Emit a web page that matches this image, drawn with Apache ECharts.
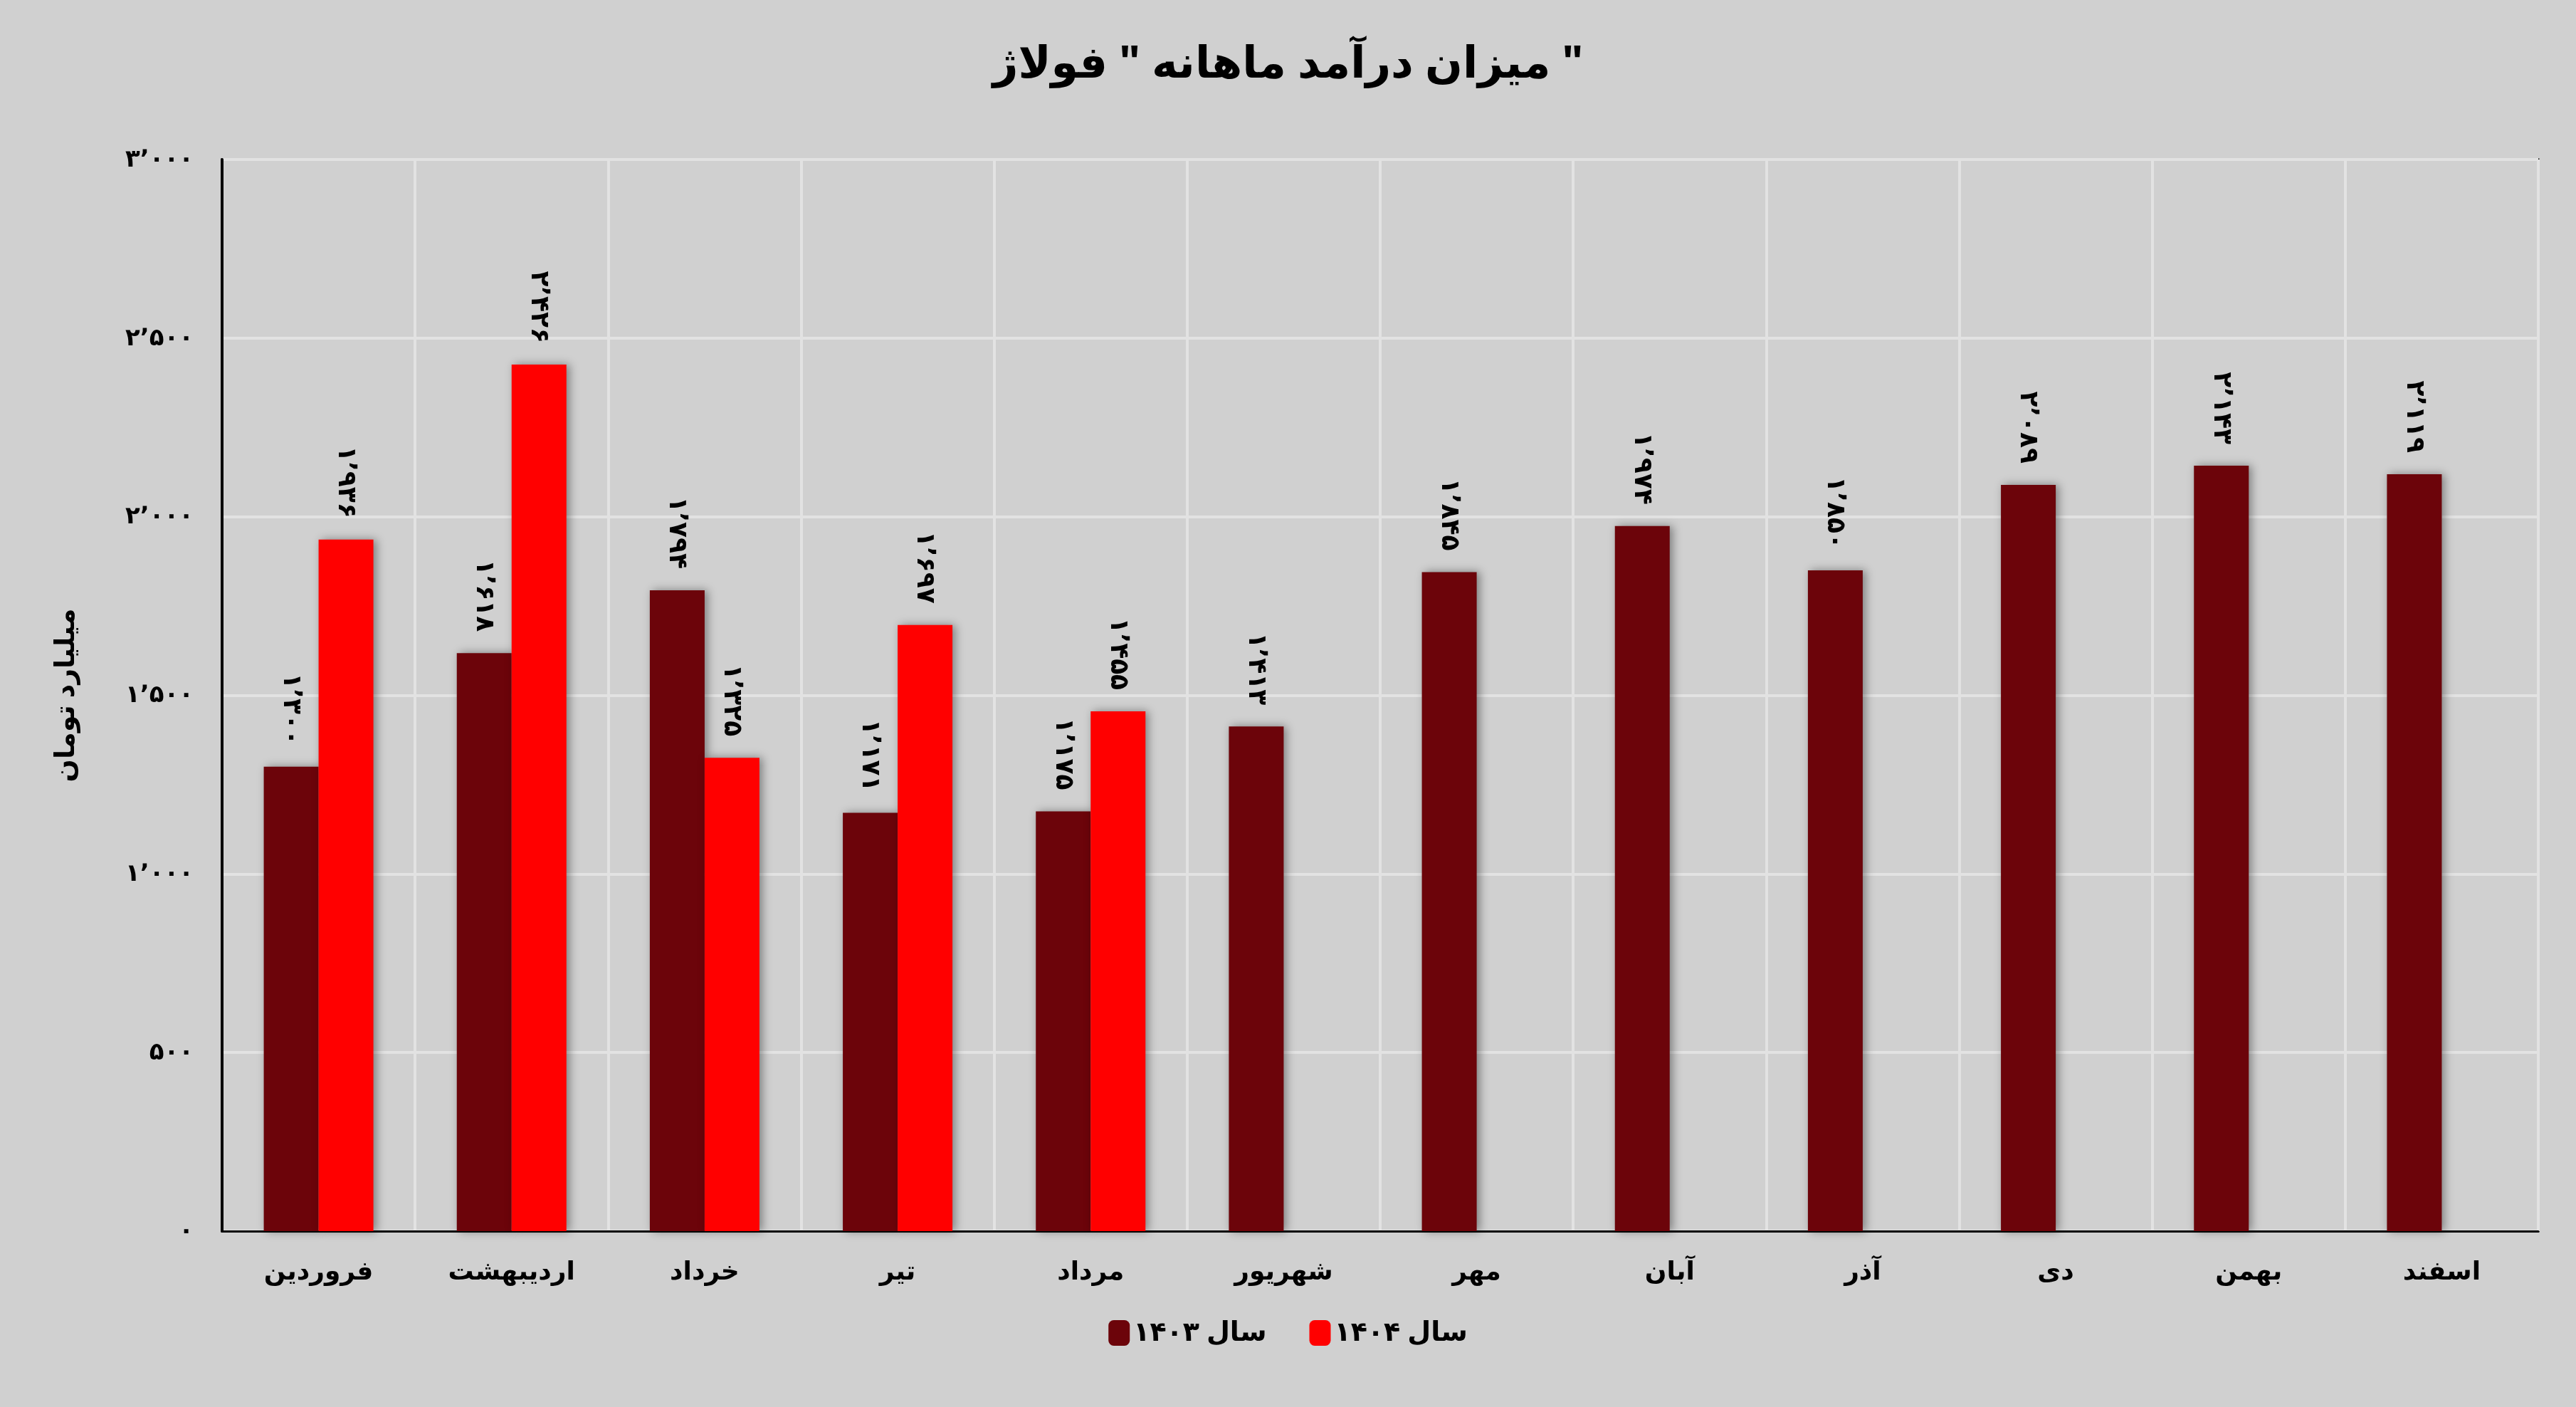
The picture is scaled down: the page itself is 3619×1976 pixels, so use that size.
<!DOCTYPE html>
<html><head><meta charset="utf-8">
<script src="https://cdn.jsdelivr.net/npm/echarts@6/dist/echarts.min.js"></script>
<style>html,body{margin:0;background:#d0d0d0}#c{width:3619px;height:1976px}</style>
</head><body><div id="c"></div>
<script>
var months = ['فروردین', 'اردیبهشت', 'خرداد', 'تیر', 'مرداد', 'شهریور', 'مهر', 'آبان', 'آذر', 'دی', 'بهمن', 'اسفند'];
var y1403 = [1300, 1618, 1794, 1171, 1175, 1413, 1845, 1974, 1850, 2089, 2143, 2119];
var y1404 = [1936, 2426, 1325, 1697, 1455, null, null, null, null, null, null, null];

function fa(n) {
    var s = String(n).replace(/\B(?=(\d{3})+(?!\d))/g, '٬');
    return s.replace(/\d/g, function (d) { return '۰۱۲۳۴۵۶۷۸۹'[d]; });
}
var font = 'Noto Sans, DejaVu Sans, sans-serif';
var myChart = echarts.init(document.getElementById('c'));
function lbl() {
    return {show: true, position: 'top', rotate: -90, align: 'right', verticalAlign: 'middle', distance: 30,
        fontSize: 36, fontWeight: 'bold', color: '#000', fontFamily: font,
        formatter: function (p) { return fa(p.value); }};
}
option = {
    backgroundColor: '#d0d0d0',
    title: {text: 'میزان درآمد ماهانه " فولاژ "', left: 'center', top: 55,
        textStyle: {fontSize: 62, fontWeight: 'bold', color: '#000', fontFamily: font}},
    legend: {bottom: 80, left: 'center', itemWidth: 30, itemHeight: 36, itemGap: 60,
        data: ['سال ۱۴۰۳', 'سال ۱۴۰۴'],
        textStyle: {fontSize: 38, fontWeight: 'bold', color: '#000', fontFamily: font}},
    grid: {left: 312, right: 53, top: 224, bottom: 247, show: true, borderColor: '#000', borderWidth: 3},
    xAxis: {type: 'category', data: months,
        axisLine: {lineStyle: {color: '#000', width: 3}}, axisTick: {show: false},
        splitLine: {show: true, lineStyle: {color: '#e2e2e2', width: 4}},
        axisLabel: {fontSize: 36, fontWeight: 'bold', color: '#000', margin: 40, fontFamily: font}},
    yAxis: {type: 'value', min: 0, max: 3000, interval: 500,
        name: 'میلیارد تومان', nameLocation: 'middle', nameRotate: 90, nameGap: 200,
        nameTextStyle: {fontSize: 38, fontWeight: 'bold', color: '#000', fontFamily: font},
        axisLine: {show: true, lineStyle: {color: '#000', width: 4}},
        splitLine: {lineStyle: {color: '#e2e2e2', width: 4}},
        axisLabel: {fontSize: 34, fontWeight: 'bold', color: '#000', margin: 40, fontFamily: font,
            formatter: function (v) { return fa(v); }}},
    series: [
        {name: 'سال ۱۴۰۳', type: 'bar', data: y1403, barWidth: 77, barGap: '0%',
            itemStyle: {color: '#6c040a', shadowBlur: 12, shadowOffsetX: 4, shadowColor: 'rgba(0,0,0,0.4)'},
            label: lbl()},
        {name: 'سال ۱۴۰۴', type: 'bar', data: y1404, barWidth: 77,
            itemStyle: {color: '#ff0000', shadowBlur: 12, shadowOffsetX: 4, shadowColor: 'rgba(0,0,0,0.4)'},
            label: lbl()}
    ]
};
myChart.setOption(option);
</script></body></html>
